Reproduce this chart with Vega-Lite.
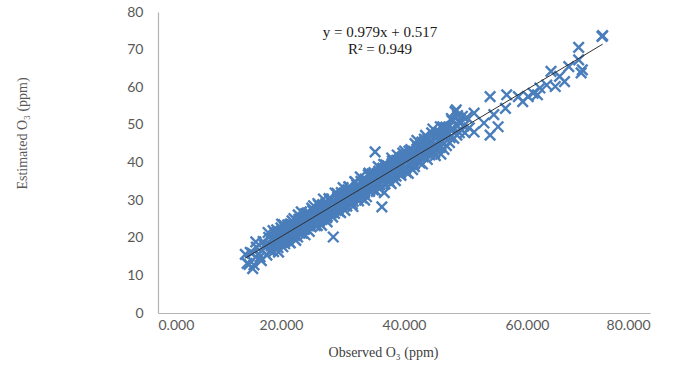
{
  "$schema": "https://vega.github.io/schema/vega-lite/v6.json",
  "width": 492,
  "height": 301,
  "autosize": "none",
  "padding": {"left": 158, "top": 12, "right": 25, "bottom": 59},
  "background": "white",
  "config": {"view": {"stroke": null}},
  "datasets": {
    "pts": [
      {"obs":14.2,"est":15.6},{"obs":14.8,"est":12.9},{"obs":15.3,"est":15.9},{"obs":15.6,"est":12.8},{"obs":15.9,"est":18.9},{"obs":16.4,"est":15.7},{"obs":16.8,"est":13.9},{"obs":17.1,"est":19.0},{"obs":17.5,"est":17.4},{"obs":17.9,"est":21.4},
      {"obs":18.2,"est":16.5},{"obs":18.5,"est":19.5},{"obs":18.8,"est":16.3},{"obs":19.0,"est":21.3},{"obs":19.2,"est":18.7},{"obs":19.4,"est":21.0},{"obs":19.6,"est":16.2},{"obs":19.8,"est":20.0},{"obs":20.0,"est":22.6},{"obs":20.2,"est":19.0},
      {"obs":20.4,"est":23.5},{"obs":20.6,"est":18.4},{"obs":20.8,"est":21.6},{"obs":21.0,"est":20.1},{"obs":21.2,"est":23.2},{"obs":21.4,"est":18.8},{"obs":21.6,"est":22.0},{"obs":21.8,"est":24.5},{"obs":22.0,"est":20.6},{"obs":22.2,"est":23.4},
      {"obs":22.4,"est":19.3},{"obs":22.6,"est":23.2},{"obs":22.8,"est":26.1},{"obs":23.0,"est":22.2},{"obs":23.2,"est":25.0},{"obs":23.4,"est":21.2},{"obs":23.6,"est":23.8},{"obs":23.8,"est":22.2},{"obs":24.0,"est":26.4},{"obs":24.2,"est":23.8},
      {"obs":24.4,"est":25.8},{"obs":24.6,"est":21.7},{"obs":24.8,"est":25.6},{"obs":25.0,"est":27.9},{"obs":25.2,"est":24.1},{"obs":25.4,"est":27.0},{"obs":25.6,"est":23.2},{"obs":25.8,"est":25.8},{"obs":26.0,"est":29.1},{"obs":26.2,"est":24.3},
      {"obs":26.4,"est":26.9},{"obs":26.6,"est":23.3},{"obs":26.8,"est":28.8},{"obs":27.0,"est":26.3},{"obs":27.2,"est":28.5},{"obs":27.4,"est":25.3},{"obs":27.6,"est":28.4},{"obs":27.8,"est":30.4},{"obs":28.0,"est":26.5},{"obs":28.2,"est":29.1},
      {"obs":28.4,"est":25.5},{"obs":28.5,"est":20.2},{"obs":28.6,"est":28.9},{"obs":28.8,"est":31.9},{"obs":29.0,"est":28.4},{"obs":29.2,"est":30.7},{"obs":29.4,"est":27.0},{"obs":29.6,"est":29.7},{"obs":29.8,"est":32.0},{"obs":30.0,"est":28.7},
      {"obs":30.2,"est":31.3},{"obs":30.4,"est":27.3},{"obs":30.6,"est":31.2},{"obs":30.8,"est":29.8},{"obs":31.0,"est":33.5},{"obs":31.2,"est":29.4},{"obs":31.4,"est":32.7},{"obs":31.6,"est":29.0},{"obs":31.8,"est":31.8},{"obs":32.0,"est":34.9},
      {"obs":32.2,"est":31.0},{"obs":32.4,"est":34.0},{"obs":32.6,"est":29.8},{"obs":32.8,"est":33.2},{"obs":33.0,"est":35.0},{"obs":33.2,"est":31.5},{"obs":33.4,"est":34.1},{"obs":33.6,"est":30.0},{"obs":33.8,"est":35.3},{"obs":34.0,"est":33.4},
      {"obs":34.2,"est":36.8},{"obs":34.4,"est":32.3},{"obs":34.6,"est":34.7},{"obs":34.8,"est":37.0},{"obs":35.0,"est":32.7},{"obs":35.3,"est":42.8},{"obs":35.4,"est":36.3},{"obs":35.6,"est":34.6},{"obs":35.8,"est":38.9},{"obs":36.0,"est":33.0},
      {"obs":36.2,"est":36.5},{"obs":36.4,"est":38.1},{"obs":36.6,"est":35.1},{"obs":36.8,"est":32.0},{"obs":37.0,"est":39.4},{"obs":37.2,"est":36.7},{"obs":37.4,"est":38.5},{"obs":37.6,"est":34.9},{"obs":37.8,"est":38.3},{"obs":38.0,"est":41.2},
      {"obs":38.2,"est":36.3},{"obs":38.4,"est":39.1},{"obs":38.6,"est":35.2},{"obs":38.8,"est":40.6},{"obs":39.0,"est":38.1},{"obs":39.2,"est":40.5},{"obs":39.4,"est":36.9},{"obs":39.6,"est":39.7},{"obs":39.8,"est":42.5},{"obs":40.0,"est":38.6},
      {"obs":40.2,"est":41.2},{"obs":40.4,"est":37.4},{"obs":40.6,"est":41.0},{"obs":40.8,"est":43.0},{"obs":41.0,"est":39.3},{"obs":41.2,"est":42.7},{"obs":41.4,"est":38.1},{"obs":41.6,"est":41.4},{"obs":41.8,"est":45.0},{"obs":42.0,"est":40.7},
      {"obs":42.3,"est":43.1},{"obs":42.6,"est":39.9},{"obs":42.9,"est":45.4},{"obs":43.2,"est":41.8},{"obs":43.5,"est":47.2},{"obs":43.8,"est":40.8},{"obs":44.1,"est":45.2},{"obs":44.4,"est":43.5},{"obs":44.7,"est":48.9},{"obs":45.0,"est":42.6},
      {"obs":45.3,"est":47.2},{"obs":45.6,"est":44.0},{"obs":45.9,"est":49.5},{"obs":46.2,"est":45.5},{"obs":46.5,"est":43.5},{"obs":46.8,"est":49.4},{"obs":47.1,"est":47.5},{"obs":47.4,"est":45.3},{"obs":47.7,"est":51.7},{"obs":48.0,"est":48.8},
      {"obs":48.3,"est":53.5},{"obs":48.6,"est":47.3},{"obs":48.9,"est":50.8},{"obs":49.2,"est":48.9},{"obs":49.5,"est":52.3},{"obs":49.9,"est":47.9},
      {"obs":14.5,"est":13.2},{"obs":15.0,"est":16.1},{"obs":15.4,"est":11.8},{"obs":16.0,"est":17.5},{"obs":16.6,"est":14.9},{"obs":17.3,"est":18.0},{"obs":17.7,"est":15.4},{"obs":18.0,"est":20.1},{"obs":18.4,"est":17.8},{"obs":18.7,"est":21.9},
      {"obs":18.9,"est":17.5},{"obs":19.1,"est":19.8},{"obs":19.3,"est":22.1},{"obs":19.5,"est":17.4},{"obs":19.7,"est":20.8},{"obs":19.9,"est":19.1},{"obs":20.1,"est":23.6},{"obs":20.3,"est":17.6},{"obs":20.5,"est":20.9},{"obs":20.7,"est":22.7},
      {"obs":20.9,"est":19.4},{"obs":21.1,"est":23.4},{"obs":21.3,"est":21.0},{"obs":21.5,"est":18.6},{"obs":21.7,"est":23.3},{"obs":21.9,"est":22.0},{"obs":22.1,"est":25.1},{"obs":22.3,"est":20.6},{"obs":22.5,"est":23.3},{"obs":22.7,"est":20.2},
      {"obs":22.9,"est":24.9},{"obs":23.1,"est":22.8},{"obs":23.3,"est":26.9},{"obs":23.5,"est":22.3},{"obs":23.7,"est":24.9},{"obs":23.9,"est":20.8},{"obs":24.1,"est":24.6},{"obs":24.3,"est":26.6},{"obs":24.5,"est":23.6},{"obs":24.7,"est":26.4},
      {"obs":24.9,"est":22.9},{"obs":25.1,"est":25.5},{"obs":25.3,"est":28.5},{"obs":25.5,"est":24.0},{"obs":25.7,"est":26.8},{"obs":25.9,"est":23.2},{"obs":26.1,"est":28.7},{"obs":26.3,"est":25.7},{"obs":26.5,"est":27.4},{"obs":26.7,"est":24.9},
      {"obs":26.9,"est":30.3},{"obs":27.1,"est":27.0},{"obs":27.3,"est":29.1},{"obs":27.5,"est":24.2},{"obs":27.7,"est":28.2},{"obs":27.9,"est":30.0},{"obs":28.1,"est":26.9},{"obs":28.3,"est":29.6},{"obs":28.7,"est":26.5},{"obs":28.9,"est":29.1},
      {"obs":29.1,"est":31.8},{"obs":29.3,"est":27.8},{"obs":29.5,"est":30.5},{"obs":29.7,"est":26.7},{"obs":29.9,"est":30.5},{"obs":30.1,"est":33.3},{"obs":30.3,"est":29.5},{"obs":30.5,"est":32.0},{"obs":30.7,"est":28.4},{"obs":30.9,"est":30.9},
      {"obs":31.1,"est":33.5},{"obs":31.3,"est":30.2},{"obs":31.5,"est":32.6},{"obs":31.7,"est":28.3},{"obs":31.9,"est":32.4},{"obs":32.1,"est":34.8},{"obs":32.3,"est":30.5},{"obs":32.5,"est":33.2},{"obs":32.7,"est":32.1},{"obs":32.9,"est":36.2},
      {"obs":33.1,"est":30.6},{"obs":33.3,"est":34.5},{"obs":33.5,"est":32.3},{"obs":33.7,"est":35.6},{"obs":33.9,"est":30.9},{"obs":34.1,"est":34.3},{"obs":34.3,"est":37.2},{"obs":34.5,"est":33.1},{"obs":34.7,"est":36.2},{"obs":34.9,"est":34.1},
      {"obs":35.1,"est":37.3},{"obs":35.5,"est":32.3},{"obs":35.7,"est":36.4},{"obs":35.9,"est":37.7},{"obs":36.1,"est":34.2},{"obs":36.3,"est":37.4},{"obs":36.4,"est":28.2},{"obs":36.5,"est":35.8},{"obs":36.7,"est":39.5},{"obs":36.9,"est":34.3},
      {"obs":37.1,"est":37.3},{"obs":37.3,"est":39.2},{"obs":37.5,"est":35.8},{"obs":37.7,"est":38.4},{"obs":37.9,"est":34.4},{"obs":38.1,"est":40.4},{"obs":38.3,"est":37.2},{"obs":38.5,"est":39.7},{"obs":38.7,"est":36.4},{"obs":38.9,"est":42.0},
      {"obs":39.1,"est":37.8},{"obs":39.3,"est":39.8},{"obs":39.5,"est":36.6},{"obs":39.7,"est":41.4},{"obs":39.9,"est":39.3},{"obs":40.1,"est":43.0},{"obs":40.3,"est":38.5},{"obs":40.5,"est":41.3},{"obs":40.7,"est":37.1},{"obs":40.9,"est":41.2},
      {"obs":41.1,"est":43.4},{"obs":41.3,"est":40.1},{"obs":41.5,"est":42.7},{"obs":41.7,"est":38.9},{"obs":41.9,"est":41.8},{"obs":42.1,"est":45.9},{"obs":42.4,"est":40.4},{"obs":42.7,"est":44.3},{"obs":43.0,"est":39.6},{"obs":43.3,"est":46.2},
      {"obs":43.6,"est":43.6},{"obs":43.9,"est":46.2},{"obs":44.2,"est":42.0},{"obs":44.5,"est":47.9},{"obs":44.8,"est":44.4},{"obs":45.1,"est":41.8},{"obs":45.4,"est":47.9},{"obs":45.7,"est":45.9},{"obs":46.0,"est":42.2},{"obs":46.3,"est":49.5},
      {"obs":46.6,"est":47.3},{"obs":46.9,"est":44.5},{"obs":47.2,"est":49.3},{"obs":47.5,"est":46.6},{"obs":47.8,"est":51.2},{"obs":48.1,"est":46.4},{"obs":48.4,"est":50.0},{"obs":48.7,"est":52.5},{"obs":49.0,"est":47.9},{"obs":49.3,"est":50.6},
      {"obs":49.7,"est":49.7},{"obs":50.2,"est":52.0},{"obs":50.6,"est":49.2},
      {"obs":19.15,"est":19.8},{"obs":19.45,"est":18.5},{"obs":19.75,"est":21.5},{"obs":20.05,"est":19.8},{"obs":20.35,"est":21.3},{"obs":20.65,"est":19.0},{"obs":20.95,"est":22.3},{"obs":21.25,"est":21.1},{"obs":21.55,"est":23.6},{"obs":21.85,"est":20.6},
      {"obs":22.15,"est":22.9},{"obs":22.45,"est":21.7},{"obs":22.75,"est":24.3},{"obs":23.05,"est":21.2},{"obs":23.35,"est":23.6},{"obs":23.65,"est":25.5},{"obs":23.95,"est":23.4},{"obs":24.25,"est":25.3},{"obs":24.55,"est":23.2},{"obs":24.85,"est":25.4},
      {"obs":25.15,"est":27.2},{"obs":25.45,"est":24.5},{"obs":25.75,"est":26.9},{"obs":26.05,"est":24.4},{"obs":26.35,"est":26.6},{"obs":26.65,"est":28.5},{"obs":26.95,"est":26.4},{"obs":27.25,"est":28.3},{"obs":27.55,"est":25.7},{"obs":27.85,"est":28.4},
      {"obs":28.15,"est":30.3},{"obs":28.45,"est":27.4},{"obs":28.75,"est":29.5},{"obs":29.05,"est":27.5},{"obs":29.35,"est":30.7},{"obs":29.65,"est":29.2},{"obs":29.95,"est":31.5},{"obs":30.25,"est":28.9},{"obs":30.55,"est":30.8},{"obs":30.85,"est":32.7},
      {"obs":31.15,"est":30.3},{"obs":31.45,"est":32.3},{"obs":31.75,"est":29.7},{"obs":32.05,"est":32.5},{"obs":32.35,"est":34.0},{"obs":32.65,"est":31.4},{"obs":32.95,"est":33.0},{"obs":33.25,"est":34.7},{"obs":33.55,"est":31.9},{"obs":33.85,"est":34.6},
      {"obs":34.15,"est":33.6},{"obs":34.45,"est":36.3},{"obs":34.75,"est":33.2},{"obs":35.05,"est":35.5},{"obs":35.35,"est":34.2},{"obs":35.65,"est":37.0},{"obs":35.95,"est":34.1},{"obs":36.25,"est":36.3},{"obs":36.55,"est":38.5},{"obs":36.85,"est":35.9},
      {"obs":37.15,"est":38.0},{"obs":37.45,"est":35.4},{"obs":37.75,"est":38.0},{"obs":38.05,"est":39.7},{"obs":38.35,"est":37.1},{"obs":38.65,"est":39.2},{"obs":38.95,"est":37.3},{"obs":39.25,"est":40.4},{"obs":39.55,"est":39.0},{"obs":39.85,"est":41.6},
      {"obs":40.15,"est":38.6},{"obs":40.45,"est":40.7},{"obs":40.75,"est":42.1},{"obs":41.05,"est":39.9},{"obs":41.35,"est":42.3},{"obs":41.65,"est":39.6},{"obs":41.95,"est":42.0},{"obs":42.25,"est":44.2},{"obs":42.55,"est":41.6},{"obs":42.85,"est":43.5},
      {"obs":43.15,"est":41.5},{"obs":43.45,"est":45.0},{"obs":43.75,"est":43.6},{"obs":44.05,"est":46.1},{"obs":44.35,"est":42.9},{"obs":44.65,"est":45.4},{"obs":44.95,"est":44.0},{"obs":45.25,"est":46.8},{"obs":45.55,"est":45.8},{"obs":45.85,"est":44.0},
      {"obs":46.15,"est":47.3},
      {"obs":48.5,"est":54.0},{"obs":51.4,"est":53.1},{"obs":51.4,"est":48.1},{"obs":53.0,"est":50.5},{"obs":54.0,"est":57.5},{"obs":54.0,"est":47.3},{"obs":54.6,"est":52.7},{"obs":55.3,"est":49.5},{"obs":56.5,"est":54.4},{"obs":56.7,"est":58.0},
      {"obs":58.6,"est":57.5},{"obs":59.3,"est":56.2},{"obs":60.2,"est":57.5},{"obs":61.0,"est":58.4},{"obs":61.7,"est":58.0},{"obs":62.1,"est":59.8},{"obs":63.2,"est":60.6},{"obs":63.9,"est":64.2},{"obs":64.6,"est":60.2},{"obs":65.3,"est":62.9},
      {"obs":66.1,"est":61.5},{"obs":66.8,"est":65.5},{"obs":68.4,"est":67.3},{"obs":68.4,"est":70.6},{"obs":68.8,"est":63.8},{"obs":69.0,"est":64.6},{"obs":72.2,"est":73.5},{"obs":72.3,"est":73.7}
    ],
    "eq": [
      {"obs": 36.1, "est": 74.6, "label": "y = 0.979x + 0.517"},
      {"obs": 36.1, "est": 70.1, "label": "R² = 0.949"}
    ]
  },
  "encoding": {
    "x": {
      "field": "obs", "type": "quantitative",
      "scale": {"domain": [0, 80], "nice": false, "zero": true},
      "axis": {
        "title": "Observed O₃ (ppm)",
        "values": [0, 20, 40, 60, 80],
        "format": ".3f",
        "grid": false, "ticks": false, "labelOverlap": false,
        "domainColor": "#b3b3b3", "domainWidth": 1.2,
        "labelFont": "Lato", "labelFontSize": 14, "labelColor": "#595959", "labelPadding": 5,
        "titleFont": "Liberation Serif", "titleFontSize": 14, "titleFontWeight": "normal", "titleColor": "#404040",
        "titleX": 225, "titleY": 39, "titleBaseline": "middle", "titleAnchor": "middle", "titleAlign": "center"
      }
    },
    "y": {
      "field": "est", "type": "quantitative",
      "scale": {"domain": [0, 80], "nice": false},
      "axis": {
        "title": "Estimated O₃ (ppm)",
        "values": [0, 10, 20, 30, 40, 50, 60, 70, 80],
        "tickCount": 9,
        "format": "d",
        "grid": false, "ticks": false, "labelOverlap": false,
        "domainColor": "#b3b3b3", "domainWidth": 1.2,
        "labelFont": "Lato", "labelFontSize": 14, "labelColor": "#595959", "labelPadding": 15,
        "titleFont": "Liberation Serif", "titleFontSize": 14, "titleFontWeight": "normal", "titleColor": "#595959",
        "titleX": -136, "titleY": 121, "titleBaseline": "middle", "titleAlign": "center", "titleAngle": -90
      }
    }
  },
  "layer": [
    {
      "data": {"name": "pts"},
      "mark": {"type": "point", "shape": "M-1,-1L1,1M-1,1L1,-1", "filled": false, "size": 110, "strokeWidth": 2.4, "color": "#4A7EBB", "opacity": 1}
    },
    {
      "data": {"name": "pts"},
      "transform": [{"regression": "est", "on": "obs"}],
      "mark": {"type": "line", "color": "#2f2f2f", "strokeWidth": 1}
    },
    {
      "data": {"name": "eq"},
      "mark": {"type": "text", "font": "Liberation Serif", "fontSize": 15, "color": "#1a1a1a", "align": "center", "baseline": "middle"},
      "encoding": {
        "text": {"field": "label"}
      }
    }
  ]
}
